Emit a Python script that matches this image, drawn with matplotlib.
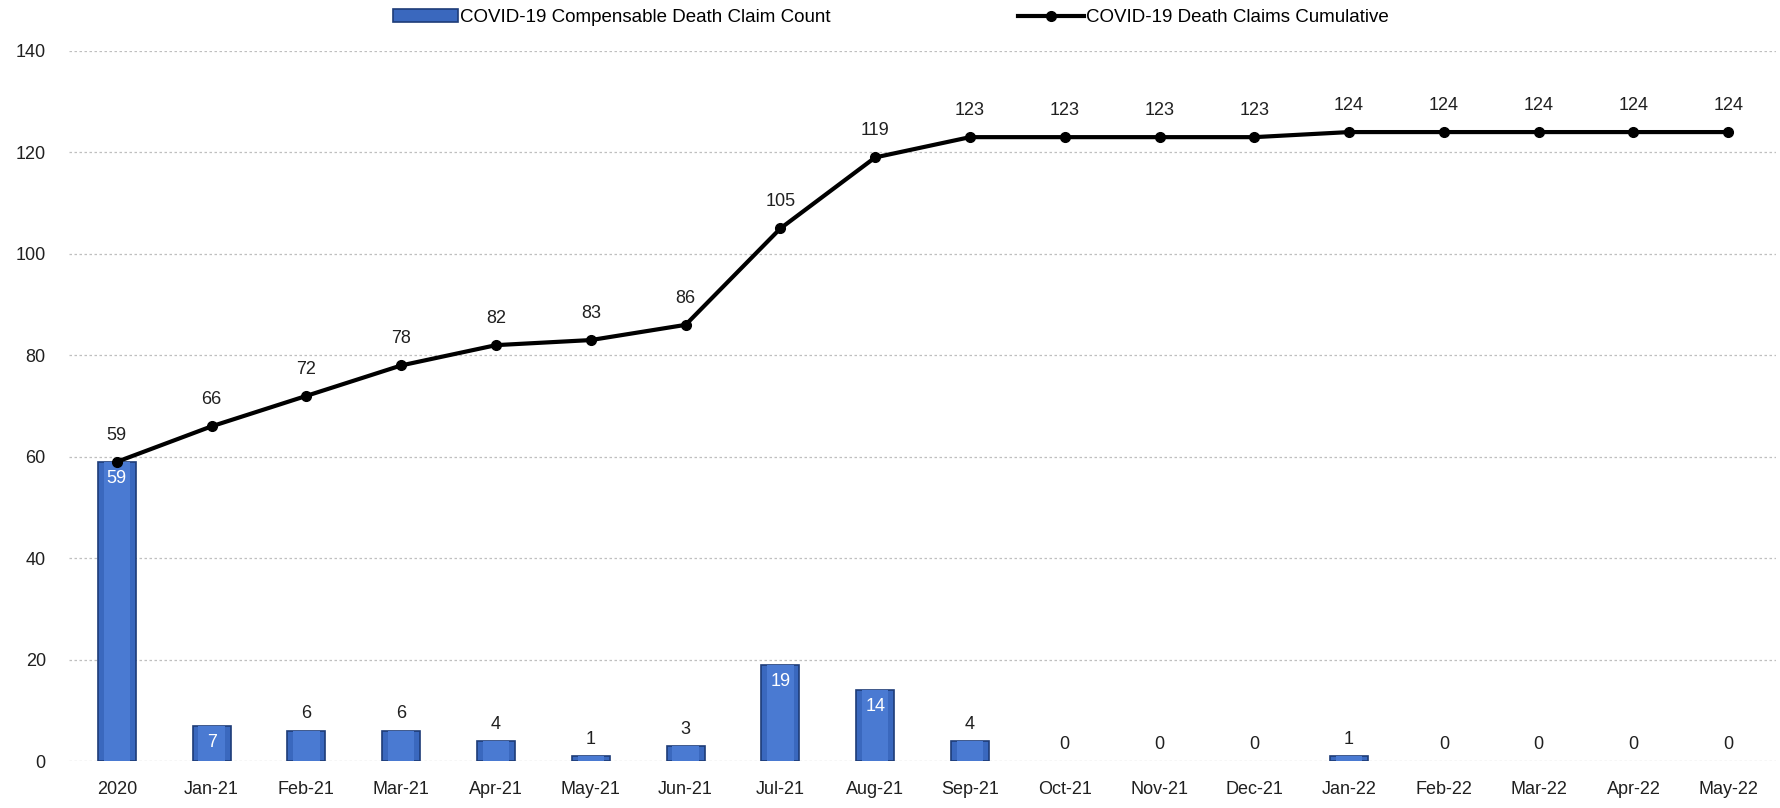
import numpy as np
import matplotlib.pyplot as plt

plt.rcParams['font.family'] = ['Liberation Sans Narrow', 'Liberation Sans', 'DejaVu Sans']

# Data
months = ['2020', 'Jan-21', 'Feb-21', 'Mar-21', 'Apr-21', 'May-21', 'Jun-21', 'Jul-21', 'Aug-21',
          'Sep-21', 'Oct-21', 'Nov-21', 'Dec-21', 'Jan-22', 'Feb-22', 'Mar-22', 'Apr-22', 'May-22']
claims = [59, 7, 6, 6, 4, 1, 3, 19, 14, 4, 0, 0, 0, 1, 0, 0, 0, 0]
cumulative = [59, 66, 72, 78, 82, 83, 86, 105, 119, 123, 123, 123, 123, 124, 124, 124, 124, 124]
inside_labels = [0, 1, 7, 8]  # bars whose value label sits inside in white

x = np.arange(len(months))

fig = plt.figure(figsize=(17.81, 8.08), dpi=100)
ax = fig.add_axes([0.039, 0.058, 0.958, 0.879])

# Bars with a simple bevel look (no outline on zero bars)
edges = ['#1E3C78' if v > 0 else 'none' for v in claims]
bars = ax.bar(x, claims, width=0.4, color='#3A68BE', edgecolor=edges, linewidth=1.2,
              label='COVID-19 Compensable Death Claim Count', zorder=2)
ax.bar(x, claims, width=0.28, color='#4A7AD2', linewidth=0, zorder=2.1)

# Cumulative line
line, = ax.plot(x, cumulative, color='black', lw=3, marker='o', markersize=7,
                label='COVID-19 Death Claims Cumulative', zorder=4)

# Labels on the line
for xi, v in zip(x, cumulative):
    ax.annotate(str(v), (xi, v), xytext=(0, 13), textcoords='offset points',
                ha='center', va='bottom', fontsize=13, color='#202020')

# Labels on the bars
for i, (xi, v) in enumerate(zip(x, claims)):
    if i in inside_labels:
        ax.annotate(str(v), (xi, v), xytext=(0, -6), textcoords='offset points',
                    ha='center', va='top', fontsize=13, color='white', zorder=5)
    else:
        ax.annotate(str(v), (xi, v), xytext=(0, 6), textcoords='offset points',
                    ha='center', va='bottom', fontsize=13, color='#202020')

ax.set_xlim(-0.5, len(months) - 0.5)
ax.set_ylim(0, 140)
ax.set_yticks(range(0, 141, 20))
ax.set_xticks(x)
ax.set_xticklabels(months)
ax.tick_params(axis='both', length=0, labelsize=13, colors='#202020')
ax.tick_params(axis='x', pad=14)
ax.tick_params(axis='y', pad=17)
ax.grid(axis='y', color='#BFBFBF', linestyle=(0, (2, 2)), linewidth=0.9, zorder=0)
ax.set_axisbelow(True)
for s in ax.spines.values():
    s.set_visible(False)

fig.legend(handles=[bars, line], loc='center', bbox_to_anchor=(0.5, 0.978), ncol=2, frameon=False,
           fontsize=13.5, columnspacing=10, handlelength=3.5, handletextpad=0.1)

fig.savefig('out.png', dpi=100)
